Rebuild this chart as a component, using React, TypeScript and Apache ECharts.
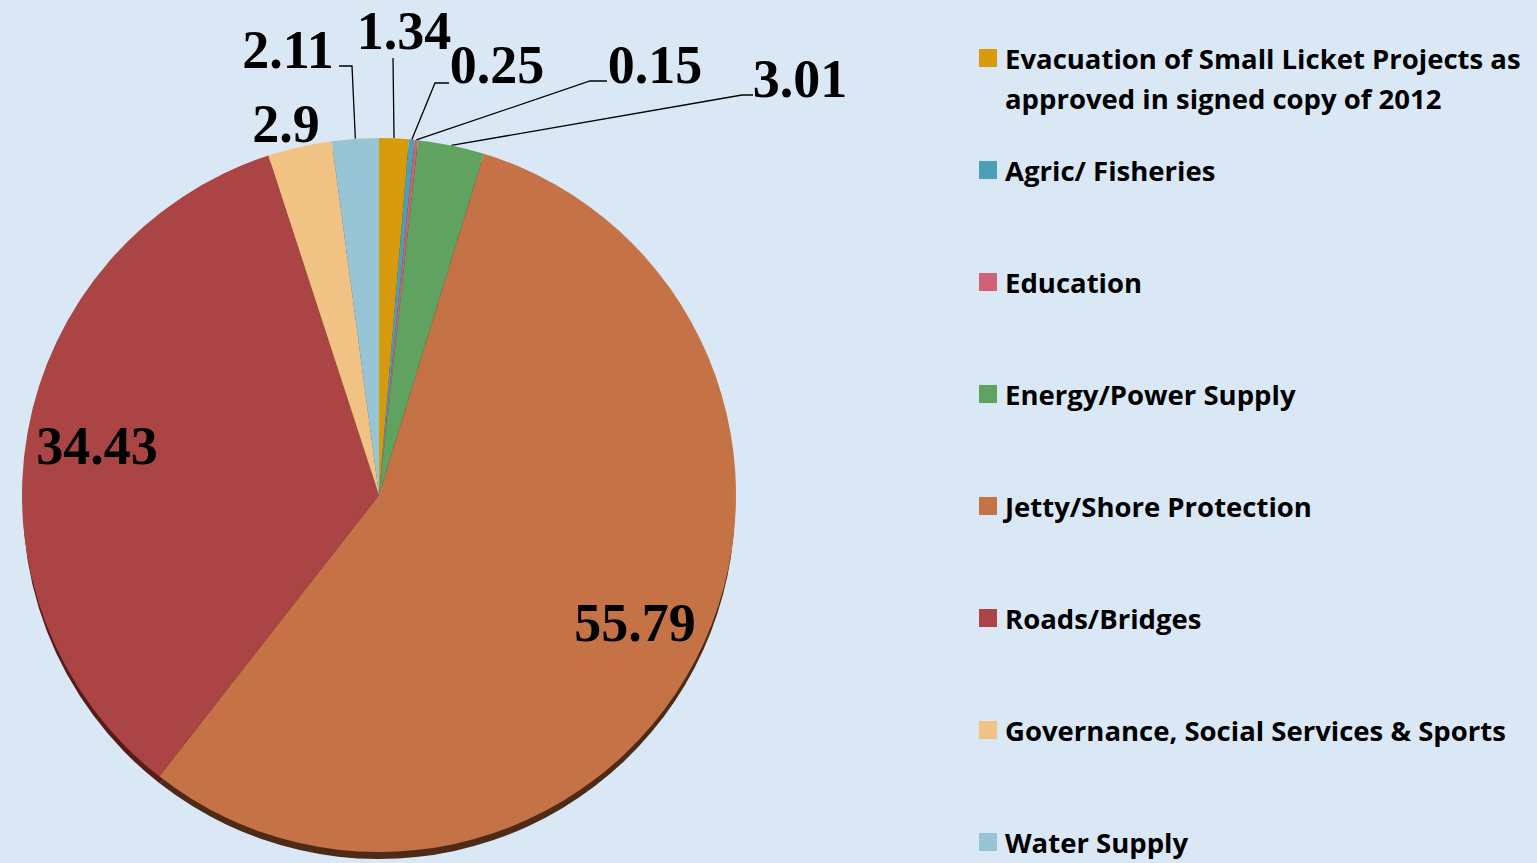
import React, { useEffect, useRef } from "react";
import * as echarts from "echarts";

const categories = [
  "Evacuation of Small Licket Projects as approved in signed copy of 2012",
  "Agric/ Fisheries",
  "Education",
  "Energy/Power Supply",
  "Jetty/Shore Protection",
  "Roads/Bridges",
  "Governance, Social Services & Sports",
  "Water Supply",
];
const values = [1.34, 0.25, 0.15, 3.01, 55.79, 34.43, 2.9, 2.11];
const valueLabels = ["1.34", "0.25", "0.15", "3.01", "55.79", "34.43", "2.9", "2.11"];
const legendLines = [
  ["Evacuation of Small Licket Projects as", "approved in signed copy of 2012"],
  ["Agric/ Fisheries"],
  ["Education"],
  ["Energy/Power Supply"],
  ["Jetty/Shore Protection"],
  ["Roads/Bridges"],
  ["Governance, Social Services & Sports"],
  ["Water Supply"],
];

// styles / layout (not data)
const sliceColors = ["#d69a0c", "#4aa0b4", "#cf6078", "#60a260", "#c47246", "#ab4545", "#f0c384", "#98c5d5"];
const shadowColors = ["#5a3e08", "#1f4450", "#5a2633", "#284628", "#4d2b17", "#561c1c", "#6a5234", "#40585f"];
const labelSpots: { x: number; y: number; line?: number[][] }[] = [
  { x: 404, y: 31, line: [[393, 58]] },
  { x: 497, y: 65, line: [[435, 83], [449, 83]] },
  { x: 655, y: 65, line: [[590, 81], [607, 81]] },
  { x: 800, y: 79, line: [[742, 95], [753, 95]] },
  { x: 635, y: 623 },
  { x: 97, y: 446 },
  { x: 286, y: 124 },
  { x: 288, y: 50, line: [[352, 66], [339, 66]] },
];
const hasLine = [true, true, true, true, false, false, false, true];

const CENTER = [379, 495];
const RADIUS = 357;

export default function App() {
  const ref = useRef<HTMLDivElement>(null);
  useEffect(() => {
    if (!ref.current) return;
    const chart = echarts.init(ref.current, undefined, { renderer: "svg" });
    const legendText: Record<string, string> = {};
    categories.forEach((c, i) => {
      legendText[c] = legendLines[i].join("\n");
    });
    const labelFont = {
      fontFamily: "'Liberation Serif', 'Times New Roman', serif",
      fontWeight: "bold" as const,
      fontSize: 54,
      color: "#000",
    };
    const legendTextStyle = {
      fontFamily: "'Open Sans', Lato, sans-serif",
      fontWeight: 700,
      fontSize: 27.5,
      color: "#000",
      lineHeight: 40,
      padding: [0, 0, 0, 3],
    };
    chart.setOption({
      animation: false,
      backgroundColor: "#dae8f5",
      legend: [
        {
          orient: "vertical",
          left: 979,
          top: -2,
          padding: 0,
          icon: "rect",
          itemWidth: 18,
          itemHeight: 18,
          selectedMode: false,
          data: [categories[0]],
          formatter: (name: string) => "\n" + legendText[name],
          textStyle: legendTextStyle,
        },
        {
          orient: "vertical",
          left: 979,
          top: 150,
          padding: 0,
          icon: "rect",
          itemWidth: 18,
          itemHeight: 18,
          itemGap: 72,
          selectedMode: false,
          data: categories.slice(1),
          formatter: (name: string) => legendText[name],
          textStyle: legendTextStyle,
        },
      ],
      series: [
        {
          type: "pie",
          name: "main",
          z: 3,
          center: CENTER,
          radius: RADIUS,
          startAngle: 90,
          clockwise: true,
          avoidLabelOverlap: false,
          itemStyle: { borderWidth: 0 },
          emphasis: { disabled: true },
          data: categories.map((c, i) => ({
            name: c,
            value: values[i],
            itemStyle: { color: sliceColors[i] },
            label: {
              show: true,
              position: hasLine[i] ? "outside" : i === 6 ? "outside" : "inside",
              formatter: valueLabels[i],
              ...labelFont,
            },
            labelLine: {
              show: hasLine[i],
              length: 20,
              length2: 10,
              lineStyle: { color: "#000", width: 1.3 },
            },
          })),
          labelLayout: (params: any) => {
            const s = labelSpots[params.dataIndex];
            const res: any = { x: s.x, y: s.y, align: "center", verticalAlign: "middle" };
            if (s.line && params.labelLinePoints && params.labelLinePoints[0]) {
              res.labelLinePoints = [params.labelLinePoints[0], ...s.line];
            }
            return res;
          },
        },
        {
          type: "pie",
          name: "shadow",
          z: 1,
          silent: true,
          center: [CENTER[0], CENTER[1] + 8],
          radius: RADIUS - 1,
          startAngle: 90,
          clockwise: true,
          label: { show: false },
          labelLine: { show: false },
          itemStyle: { borderWidth: 0 },
          emphasis: { disabled: true },
          data: categories.map((c, i) => ({
            name: c,
            value: values[i],
            itemStyle: { color: shadowColors[i] },
          })),
        },
      ],
    });
    return () => chart.dispose();
  }, []);
  return (
    <div
      ref={ref}
      style={{ position: "fixed", left: 0, top: 0, width: 1537, height: 863 }}
    />
  );
}
